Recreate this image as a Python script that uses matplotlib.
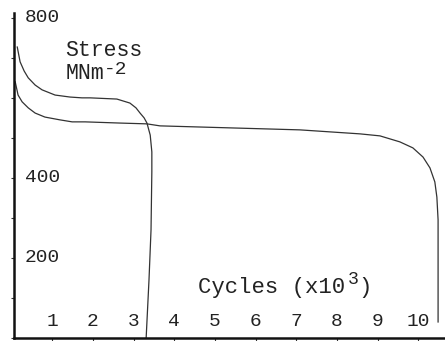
import matplotlib.pyplot as plt

# stress-vs-cycles curves (x in thousands of cycles, y in MN/m^2)
short_x = [0.14, 0.21, 0.31, 0.41, 0.58, 0.75, 1.07, 1.44, 1.73, 1.93, 2.59, 2.91,
           3.06, 3.16, 3.26, 3.33, 3.41, 3.45, 3.45, 3.43, 3.38, 3.31]
short_y = [727, 690, 667, 650, 632, 620, 607, 602, 600, 600, 597, 587,
           575, 562, 550, 537, 507, 465, 415, 270, 145, 0]

long_x = [0.09, 0.16, 0.26, 0.41, 0.58, 0.82, 1.19, 1.49, 1.81, 2.67, 3.33, 3.65,
          5.37, 7.09, 8.57, 9.06, 9.55, 9.87, 10.12, 10.29, 10.41, 10.46, 10.49,
          10.49, 10.49]
long_y = [640, 607, 590, 575, 562, 552, 545, 540, 540, 537, 535, 530,
          525, 520, 510, 505, 490, 475, 452, 425, 390, 352, 295, 170, 40]

x_ticks = [1, 2, 3, 4, 5, 6, 7, 8, 9, 10]
y_ticks = [0, 100, 200, 300, 400, 500, 600, 700, 800]
y_labels = [200, 400]

mono = 'Liberation Mono'
ink = '#222222'

fig = plt.figure(figsize=(4.45, 3.41), dpi=100)
ax = fig.add_axes([14 / 445, 3 / 341, 431 / 445, 325 / 341])
ax.set_xlim(0.06, 10.66)
ax.set_ylim(0, 812)

ax.plot(short_x, short_y, color='#333333', lw=0.9)
ax.plot(long_x, long_y, color='#333333', lw=0.9)

for s in ['top', 'right']:
    ax.spines[s].set_visible(False)
for s in ['left', 'bottom']:
    ax.spines[s].set_linewidth(1.8)
    ax.spines[s].set_color('#111111')

ax.set_xticks(x_ticks)
ax.set_yticks(y_ticks)
ax.tick_params(axis='both', length=2.5, width=0.8, color='#333333',
               labelbottom=False, labelleft=False)

# tick labels sit inside the axes
for v in x_ticks:
    ax.text(v, 42, str(v), family=mono, fontsize=14, color=ink,
            ha='center', va='center')
for v in y_labels:
    ax.text(0.33, v, str(v), family=mono, fontsize=14, color=ink,
            ha='left', va='center')
ax.text(0.33, 802, '800', family=mono, fontsize=14, color=ink,
        ha='left', va='center')

# axis titles
ax.text(1.32, 719, 'Stress', family=mono, fontsize=15.5, color=ink,
        ha='left', va='center')
ax.text(1.32, 662, 'MNm', family=mono, fontsize=15.5, color=ink,
        ha='left', va='center')
ax.text(2.26, 671, '-2', family=mono, fontsize=14, color=ink,
        ha='left', va='center')
ax.text(4.59, 125, 'Cycles (x10', family=mono, fontsize=16, color=ink,
        ha='left', va='center')
ax.text(8.27, 145, '3', family=mono, fontsize=13, color=ink,
        ha='left', va='center')
ax.text(8.52, 125, ')', family=mono, fontsize=16, color=ink,
        ha='left', va='center')

plt.savefig('out.png', dpi=100)
